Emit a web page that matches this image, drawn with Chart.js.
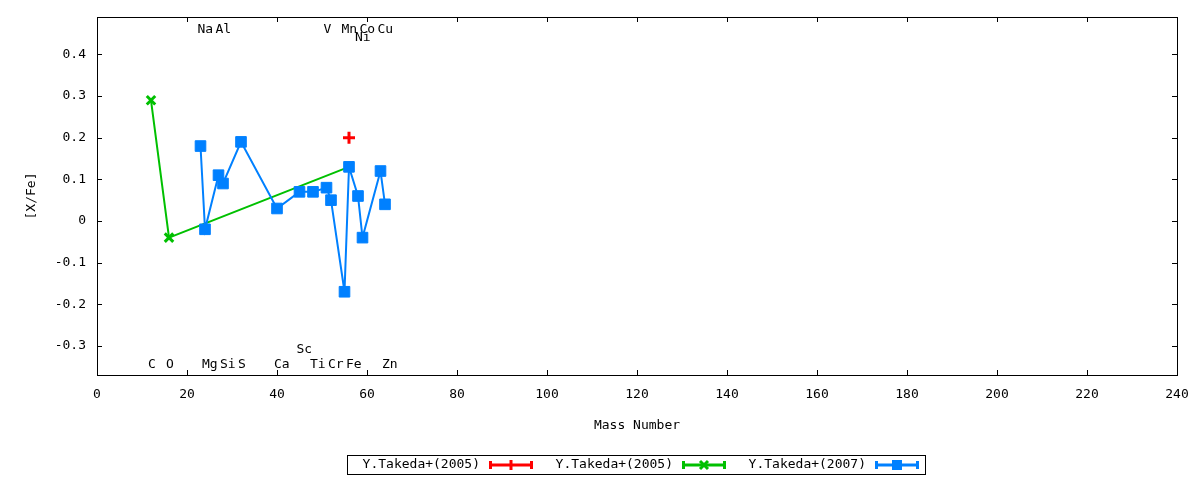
<!DOCTYPE html>
<html>
<head>
<meta charset="utf-8">
<script src="https://cdn.jsdelivr.net/npm/chart.js@4/dist/chart.umd.min.js"></script>
<style>
  html, body { margin: 0; padding: 0; background: #fff; }
  canvas { display: block; }
</style>
</head>
<body>
<canvas id="grafico" width="1200" height="480"></canvas>
<script>
// ===== DADOS =====
const xTicks = [0, 20, 40, 60, 80, 100, 120, 140, 160, 180, 200, 220, 240];
const yTicks = [-0.3, -0.2, -0.1, 0, 0.1, 0.2, 0.3, 0.4];

// Y.Takeda+(2005) vermelho
const takedaA_mass = [56];
const takedaA_val = [0.2];

// Y.Takeda+(2005) verde
const takedaB_mass = [12, 16, 56];
const takedaB_val = [0.29, -0.04, 0.13];

// Y.Takeda+(2007) azul
const takeda07_mass = [23, 24, 27, 28, 32, 40, 45, 48, 51, 52, 55, 56, 58, 59, 63, 64];
const takeda07_val = [0.18, -0.02, 0.11, 0.09, 0.19, 0.03, 0.07, 0.07, 0.08, 0.05, -0.17, 0.13, 0.06, -0.04, 0.12, 0.04];

// rotulos dos elementos
const elemNames = ['Na', 'Al', 'V', 'Mn', 'Co', 'Cu', 'Ni', 'C', 'O', 'Mg', 'Si', 'S', 'Ca', 'Ti', 'Cr', 'Fe', 'Zn', 'Sc'];
const elemMass = [23, 27, 51, 55, 59, 63, 58, 12, 16, 24, 28, 32, 40, 48, 52, 56, 64, 45];
const elemY = [0.46, 0.46, 0.46, 0.46, 0.46, 0.46, 0.44, -0.345, -0.345, -0.345, -0.345, -0.345, -0.345, -0.345, -0.345, -0.345, -0.345, -0.31];

const legendLabels = ['Y.Takeda+(2005)', 'Y.Takeda+(2005)', 'Y.Takeda+(2007)'];
const cores = ['#ff0000', '#00c000', '#0080ff'];

const FONTE = "'DejaVu Sans Mono', monospace";
const pontos = (xs, ys) => xs.map((x, i) => ({ x: x, y: ys[i] }));

// ===== MOLDURA, TICKS, ROTULOS E LEGENDA =====
const extras = {
    id: 'extras',
    afterDatasetsDraw(chart) {
        const ctx = chart.ctx;
        const a = chart.chartArea;
        const sx = chart.scales.x, sy = chart.scales.y;
        ctx.save();

        // rotulos dos elementos
        ctx.fillStyle = '#000';
        ctx.font = '13px ' + FONTE;
        ctx.textAlign = 'left';
        ctx.textBaseline = 'middle';
        elemNames.forEach((n, i) => {
            ctx.fillText(n, sx.getPixelForValue(elemMass[i]) - 3, sy.getPixelForValue(elemY[i]));
        });

        // moldura
        ctx.strokeStyle = '#000';
        ctx.lineWidth = 1;
        ctx.strokeRect(Math.round(a.left) + 0.5, Math.round(a.top) + 0.5,
            Math.round(a.right - a.left), Math.round(a.bottom - a.top));

        // ticks para dentro (com espelho)
        const tl = 5;
        ctx.beginPath();
        xTicks.forEach(v => {
            const px = Math.round(sx.getPixelForValue(v)) + 0.5;
            ctx.moveTo(px, a.bottom); ctx.lineTo(px, a.bottom - tl);
            ctx.moveTo(px, a.top); ctx.lineTo(px, a.top + tl);
        });
        yTicks.forEach(v => {
            const py = Math.round(sy.getPixelForValue(v)) + 0.5;
            ctx.moveTo(a.left, py); ctx.lineTo(a.left + tl, py);
            ctx.moveTo(a.right, py); ctx.lineTo(a.right - tl, py);
        });
        ctx.stroke();

        // legenda
        ctx.strokeRect(347.5, 455.5, 578, 19);
        const yl = 465;
        legendLabels.forEach((txt, i) => {
            const x0 = 489 + i * 193;
            ctx.fillStyle = '#000';
            ctx.textAlign = 'right';
            ctx.fillText(txt, x0 - 9, yl);
            ctx.strokeStyle = cores[i];
            ctx.fillStyle = cores[i];
            ctx.lineWidth = 3;
            ctx.beginPath();
            ctx.moveTo(x0, yl); ctx.lineTo(x0 + 44, yl);
            ctx.moveTo(x0 + 1.5, yl - 4); ctx.lineTo(x0 + 1.5, yl + 4);
            ctx.moveTo(x0 + 42.5, yl - 4); ctx.lineTo(x0 + 42.5, yl + 4);
            ctx.stroke();
            const cx = x0 + 22;
            ctx.beginPath();
            if (i === 0) {
                ctx.moveTo(cx, yl - 5); ctx.lineTo(cx, yl + 5);
                ctx.stroke();
            } else if (i === 1) {
                ctx.moveTo(cx - 4, yl - 4); ctx.lineTo(cx + 4, yl + 4);
                ctx.moveTo(cx + 4, yl - 4); ctx.lineTo(cx - 4, yl + 4);
                ctx.stroke();
            } else {
                ctx.fillRect(cx - 5, yl - 5, 10, 10);
            }
        });
        ctx.restore();
    }
};

// ===== GRAFICO =====
new Chart(document.getElementById('grafico').getContext('2d'), {
    type: 'scatter',
    data: {
        datasets: [
            {
                label: legendLabels[0],
                data: pontos(takedaA_mass, takedaA_val),
                borderColor: cores[0], backgroundColor: cores[0],
                pointStyle: 'cross', pointRadius: 6, borderWidth: 3,
                showLine: false, order: 0
            },
            {
                label: legendLabels[1],
                data: pontos(takedaB_mass, takedaB_val),
                borderColor: cores[1], backgroundColor: cores[1],
                pointStyle: 'crossRot', pointRadius: 6, pointBorderWidth: 3, borderWidth: 2,
                showLine: true, tension: 0, order: 2
            },
            {
                label: legendLabels[2],
                data: pontos(takeda07_mass, takeda07_val),
                borderColor: cores[2], backgroundColor: cores[2],
                pointStyle: 'rect', pointRadius: 7.5, pointBorderWidth: 1, borderWidth: 2,
                showLine: true, tension: 0, order: 1
            }
        ]
    },
    options: {
        responsive: false,
        animation: false,
        devicePixelRatio: 1,
        layout: { padding: { top: 17, right: 23, left: 0, bottom: 0 } },
        plugins: { legend: { display: false }, tooltip: { enabled: false } },
        scales: {
            x: {
                type: 'linear', min: 0, max: 240,
                afterBuildTicks: s => { s.ticks = xTicks.map(v => ({ value: v })); },
                afterFit: s => { s.height = 105; s.paddingLeft = 0; s.paddingRight = 0; },
                grid: { display: false, drawTicks: false },
                border: { display: false },
                ticks: { color: '#000', font: { family: FONTE, size: 13 }, padding: 12, maxRotation: 0 },
                title: { display: true, text: 'Mass Number', color: '#000',
                         font: { family: FONTE, size: 13 }, padding: { top: 0, bottom: 47 } }
            },
            y: {
                type: 'linear', min: -0.37, max: 0.49,
                afterBuildTicks: s => { s.ticks = yTicks.map(v => ({ value: v })); },
                afterFit: s => { s.width = 97; s.paddingTop = 0; s.paddingBottom = 0; },
                grid: { display: false, drawTicks: false },
                border: { display: false },
                ticks: { color: '#000', font: { family: FONTE, size: 13 }, padding: 11,
                         callback: v => (Math.abs(v) < 1e-9 ? '0' : v.toFixed(1)) },
                title: { display: true, text: '[X/Fe]', color: '#000',
                         font: { family: FONTE, size: 13 }, padding: { top: 24, bottom: 0 } }
            }
        }
    },
    plugins: [extras]
});
</script>
</body>
</html>
